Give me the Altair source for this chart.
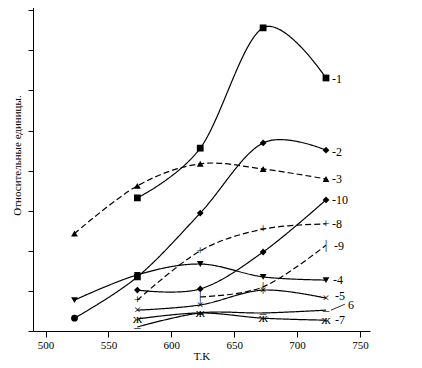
import altair as alt
import pandas as pd

temps = [523, 573, 623, 673, 723]

series_names = ["1", "2", "3", "4", "5", "6", "7", "8", "9", "10"]
s1 = [None, 3.32, 4.56, 7.56, 6.31]
s2 = [0.32, 1.35, 2.94, 4.69, 4.51]
s3 = [2.43, 3.62, 4.17, 4.04, 3.79]
s4 = [0.77, 1.40, 1.67, 1.35, 1.27]
s5 = [None, 0.52, 0.65, 1.02, 0.82]
s6 = [None, 0.10, 0.45, 0.45, 0.52]
s7 = [None, 0.30, 0.45, 0.32, 0.27]
s8 = [None, 0.77, 2.00, 2.54, 2.67]
s9 = [None, None, 0.85, 1.10, 2.14]
s10 = [None, 1.02, 1.05, 1.97, 3.27]
values = [s1, s2, s3, s4, s5, s6, s7, s8, s9, s10]

dashed = {"3", "8", "9"}
# marker per series (point shape or text glyph)
point_shapes = {"1": "square", "2": "diamond", "3": "triangle-up", "4": "triangle-down", "10": "diamond"}
glyphs = {"5": "×", "6": "–", "7": "ж", "8": "+", "9": "|"}
first_marker_2 = ["circle", "square", "diamond", "diamond", "diamond"]

end_labels = ["-1", "-2", "-3", "-4", "-5", "6", "-7", "-8", "-9", "-10"]

rows = []
for name, vals in zip(series_names, values):
    for i, (t, v) in enumerate(zip(temps, vals)):
        if v is None:
            continue
        shape = point_shapes.get(name, "")
        if name == "2":
            shape = first_marker_2[i]
        rows.append({"series": name, "T": t, "v": v, "shape": shape,
                     "glyph": glyphs.get(name, ""), "dashed": name in dashed})
df = pd.DataFrame(rows)

FONT = "Liberation Serif"
xscale = alt.Scale(domain=[490, 758], nice=False, zero=False)
yscale = alt.Scale(domain=[0, 8.13], nice=False)

xaxis = alt.Axis(
    values=list(range(500, 751, 25)),
    labelExpr="datum.value % 50 === 0 ? datum.label : ''",
    tickSize={"condition": {"test": "datum.value % 50 === 0", "value": 6}, "value": 3},
    grid=False, domainColor="black", tickColor="black", labelColor="black",
    labelFont=FONT, labelFontSize=11, labelPadding=2,
    title="T,K", titleFont=FONT, titleFontSize=11, titleFontWeight="normal",
    titleColor="black", titlePadding=0,
)
yaxis = alt.Axis(
    values=[i * 0.5 for i in range(17)],
    labels=False,
    tickSize={"condition": {"test": "datum.value % 1 === 0", "value": 5}, "value": 3},
    grid=False, domainColor="black", tickColor="black",
    title="Относительные единицы.", titleFont=FONT, titleFontSize=11,
    titleFontWeight="normal", titleColor="black",
    titleX=-16, titleY=150, titleAlign="center", titleBaseline="middle", titleAngle=-90,
)

layers = []
for name in series_names:
    sub = df[df.series == name]
    line = alt.Chart(sub).mark_line(
        color="black", strokeWidth=1.2, interpolate="cardinal",
        strokeDash=[6, 3] if name in dashed else [1, 0],
    ).encode(
        x=alt.X("T:Q", scale=xscale, axis=xaxis),
        y=alt.Y("v:Q", scale=yscale, axis=yaxis),
    )
    layers.append(line)

pts = alt.Chart(df[df["shape"] != ""]).mark_point(
    filled=True, color="black", size=46, opacity=1
).encode(
    x=alt.X("T:Q", scale=xscale),
    y=alt.Y("v:Q", scale=yscale),
    shape=alt.Shape("shape:N", scale=None, legend=None),
)
layers.append(pts)

gl = alt.Chart(df[df["glyph"] != ""]).mark_text(
    color="black", font=FONT, fontSize=13, baseline="middle", align="center"
).encode(
    x=alt.X("T:Q", scale=xscale),
    y=alt.Y("v:Q", scale=yscale),
    text="glyph:N",
)
layers.append(gl)

# end labels
label_dx = {"1": 6, "2": 6, "3": 6, "4": 7, "5": 9, "6": 22, "7": 9, "8": 6, "9": 8, "10": 6}
label_dy = {"1": 1, "2": 2, "3": 0, "4": 0, "5": -2, "6": -5, "7": 0, "8": 0, "9": 1, "10": 0}
last = df.groupby("series").tail(1)
for name, lab in zip(series_names, end_labels):
    sub = last[last.series == name].assign(label=lab)
    layers.append(
        alt.Chart(sub).mark_text(
            color="black", font=FONT, fontSize=12, align="left", baseline="middle",
            dx=label_dx[name], dy=label_dy[name],
        ).encode(
            x=alt.X("T:Q", scale=xscale),
            y=alt.Y("v:Q", scale=yscale),
            text="label:N",
        )
    )

# leader line for label 6
s6_last = last[last.series == "6"]
layers.append(
    alt.Chart(s6_last).mark_rule(
        color="black", strokeWidth=0.8, xOffset=5, x2Offset=19, yOffset=0, y2Offset=-6
    ).encode(
        x=alt.X("T:Q", scale=xscale),
        x2="T:Q",
        y=alt.Y("v:Q", scale=yscale),
        y2="v:Q",
    )
)

chart = alt.layer(*layers).properties(
    width=337, height=326,
    autosize=alt.AutoSizeParams(type="none"),
    padding={"left": 25, "top": -3, "right": 8, "bottom": 29},
    background="white",
).configure_view(stroke=None)

chart.save("out.html", embed_options={"renderer": "svg", "actions": False})
